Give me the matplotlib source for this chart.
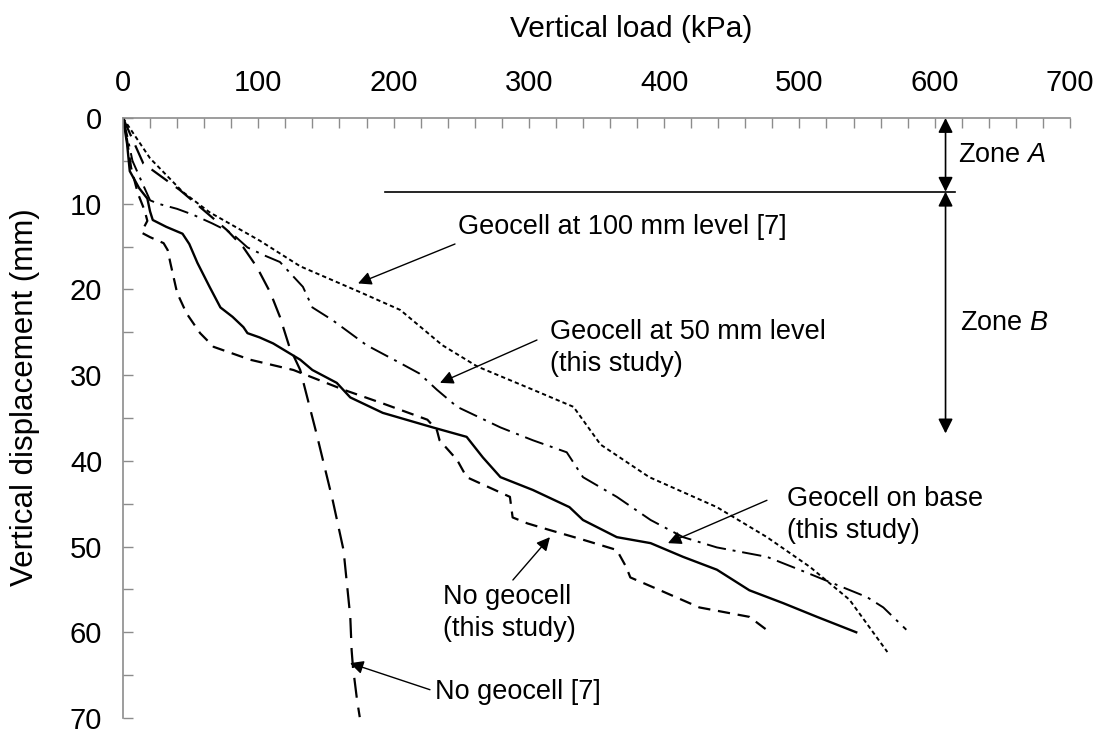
import numpy as np
import matplotlib.pyplot as plt

plt.rcParams['font.family'] = ['Liberation Sans', 'DejaVu Sans']
plt.rcParams['mathtext.fontset'] = 'custom'
plt.rcParams['mathtext.it'] = 'Liberation Sans:italic'
plt.rcParams['mathtext.rm'] = 'Liberation Sans'

# load (kPa) / displacement (mm) curves
geo100_load = [0, 20, 44, 64, 101, 131, 175, 205, 236, 262, 303, 333, 353, 389, 439, 476, 508, 537, 565]
geo100_disp = [0, 4.7, 8.6, 11.0, 14.3, 17.3, 20.3, 22.4, 26.5, 29.0, 31.7, 33.7, 38.1, 41.9, 45.4, 48.9, 52.4, 56.2, 62.3]

geo50_load = [0, 3, 7, 14, 20, 26, 40, 52, 66, 80, 92, 104, 116, 133, 140, 155, 180, 205, 219, 232, 247,
              279, 303, 328, 340, 365, 390, 414, 439, 476, 500, 525, 550, 562, 579]
geo50_disp = [0, 2.0, 5.0, 7.5, 9.6, 10.0, 10.6, 11.3, 12.3, 13.4, 15.1, 16.0, 16.8, 19.7, 22.1, 23.6, 26.5, 28.6, 29.8, 31.7, 33.7,
              36.1, 37.6, 39.0, 41.9, 44.2, 46.9, 48.9, 50.1, 51.2, 52.7, 54.3, 55.9, 57.1, 59.7]

nogeo7_load = [0, 15, 42, 57, 77, 89, 99, 109, 116, 123, 131, 143, 155, 163, 168, 169, 170, 173, 175]
nogeo7_disp = [0, 5.3, 8.4, 10.4, 13.1, 15.1, 17.4, 20.4, 23.2, 26.7, 29.4, 36.8, 44.6, 50.4, 58.2, 62.1, 64.1, 67.9, 69.9]

base_load = [0, 3, 5, 12, 18, 20, 22, 32, 44, 49, 52, 55, 64, 72, 81, 89, 92, 101, 111, 131, 140, 158, 168, 192,
             229, 254, 266, 279, 303, 330, 340, 365, 390, 414, 439, 463, 488, 513, 542]
base_disp = [0, 3.0, 6.2, 8.2, 9.4, 10.9, 11.9, 12.7, 13.5, 14.7, 15.8, 16.9, 19.7, 22.1, 23.2, 24.4, 25.1, 25.6, 26.3, 28.2, 29.4, 30.9, 32.6, 34.4,
             36.1, 37.2, 39.6, 41.9, 43.4, 45.4, 46.9, 48.9, 49.6, 51.2, 52.7, 55.1, 56.6, 58.2, 60.0]

nogeo_load = [0, 3, 6, 11, 16, 18, 15, 14, 20, 30, 33, 35, 40, 47, 57, 67, 94, 126, 163, 192, 225, 232, 234,
              247, 254, 286, 288, 299, 316, 340, 365, 372, 375, 397, 426, 463, 479]
nogeo_disp = [0, 2.6, 5.8, 8.8, 10.8, 12.0, 12.9, 13.4, 13.9, 14.6, 15.4, 16.9, 20.4, 22.8, 25.1, 26.7, 28.2, 29.4, 31.7, 33.3, 35.2, 36.4, 37.6,
              39.9, 41.9, 44.2, 46.6, 47.3, 48.1, 49.2, 50.4, 52.4, 53.6, 55.1, 57.1, 58.2, 60.1]

zone_x = 608
zone_split = 8.6
zone_b_end = 36.8

fig = plt.figure(figsize=(11.05, 7.33), dpi=100)
ax = fig.add_axes([123 / 1105, 1 - 718 / 733, (1070 - 123) / 1105, 600 / 733])

ax.plot(geo100_load, geo100_disp, color='black', lw=1.4, ls=(0, (2.2, 1.6)))
ax.plot(geo50_load, geo50_disp, color='black', lw=1.4, ls=(0, (10, 3.5, 1.5, 3.5)))
ax.plot(nogeo7_load, nogeo7_disp, color='black', lw=1.6, ls=(0, (9, 4.5)))
ax.plot(base_load, base_disp, color='black', lw=1.7)
ax.plot(nogeo_load, nogeo_disp, color='black', lw=1.6, ls=(0, (5.5, 3.5)))

ax.set_xlim(0, 700)
ax.set_ylim(70, 0)
ax.xaxis.tick_top()
ax.set_xticks(np.arange(0, 701, 100))
ax.set_xticks(np.arange(0, 701, 20), minor=True)
ax.set_yticks(np.arange(0, 71, 10))
ax.set_yticks(np.arange(0, 71, 5), minor=True)
ax.tick_params(axis='both', which='both', direction='in', length=7, width=1, color='#8c8c8c',
               labelsize=21, pad=15)
ax.tick_params(axis='x', which='both', top=True, bottom=False)
for side in ['bottom', 'right']:
    ax.spines[side].set_visible(False)
for side in ['top', 'left']:
    ax.spines[side].set_color('#8c8c8c')
    ax.spines[side].set_linewidth(1.2)

ax.set_xlabel('Vertical load (kPa)', fontsize=21.5)
ax.xaxis.set_label_position('top')
ax.xaxis.set_label_coords((631 - 123) / 947, 1 + (118 - 37) / 600, transform=ax.transAxes)
ax.set_ylabel('Vertical displacement (mm)', fontsize=22.5)
ax.yaxis.set_label_coords(-(123 - 40) / 947, (718 - 397) / 600)

# zone boundaries
ax.plot([194, 615], [zone_split, zone_split], color='black', lw=1.2, clip_on=False)
arrow_kw = dict(arrowstyle='<|-|>', color='black', lw=1.2, mutation_scale=22, shrinkA=0, shrinkB=0)
ax.annotate('', xy=(zone_x, 0), xytext=(zone_x, zone_split), arrowprops=arrow_kw, annotation_clip=False)
ax.annotate('', xy=(zone_x, zone_split), xytext=(zone_x, zone_b_end), arrowprops=arrow_kw)
ax.text(617, 4.3, 'Zone $\\mathit{A}$', fontsize=19.5, va='center')
ax.text(619, 23.9, 'Zone $\\mathit{B}$', fontsize=19.5, va='center')

# curve labels
labels = [
    ('Geocell at 100 mm level [7]', (247.6, 12.7), (245.4, 14.7), (173.7, 19.3)),
    ('Geocell at 50 mm level\n(this study)', (315.6, 26.8), (306, 25.9), (234.3, 30.9)),
    ('Geocell on base\n(this study)', (490.8, 46.3), (476, 44.6), (402.8, 49.6)),
    ('No geocell\n(this study)', (236.5, 57.8), (288.2, 53.9), (315.6, 48.9)),
    ('No geocell [7]', (230.6, 67.0), (226.9, 66.7), (167.8, 63.6)),
]
for text, pos, tail, head in labels:
    ax.text(pos[0], pos[1], text, fontsize=19.5, va='center', ha='left', linespacing=1.3)
    ax.annotate('', xy=head, xytext=tail,
                arrowprops=dict(arrowstyle='-|>', color='black', lw=1.0, mutation_scale=20,
                                shrinkA=0, shrinkB=0))

fig.savefig('out.png', dpi=100)
